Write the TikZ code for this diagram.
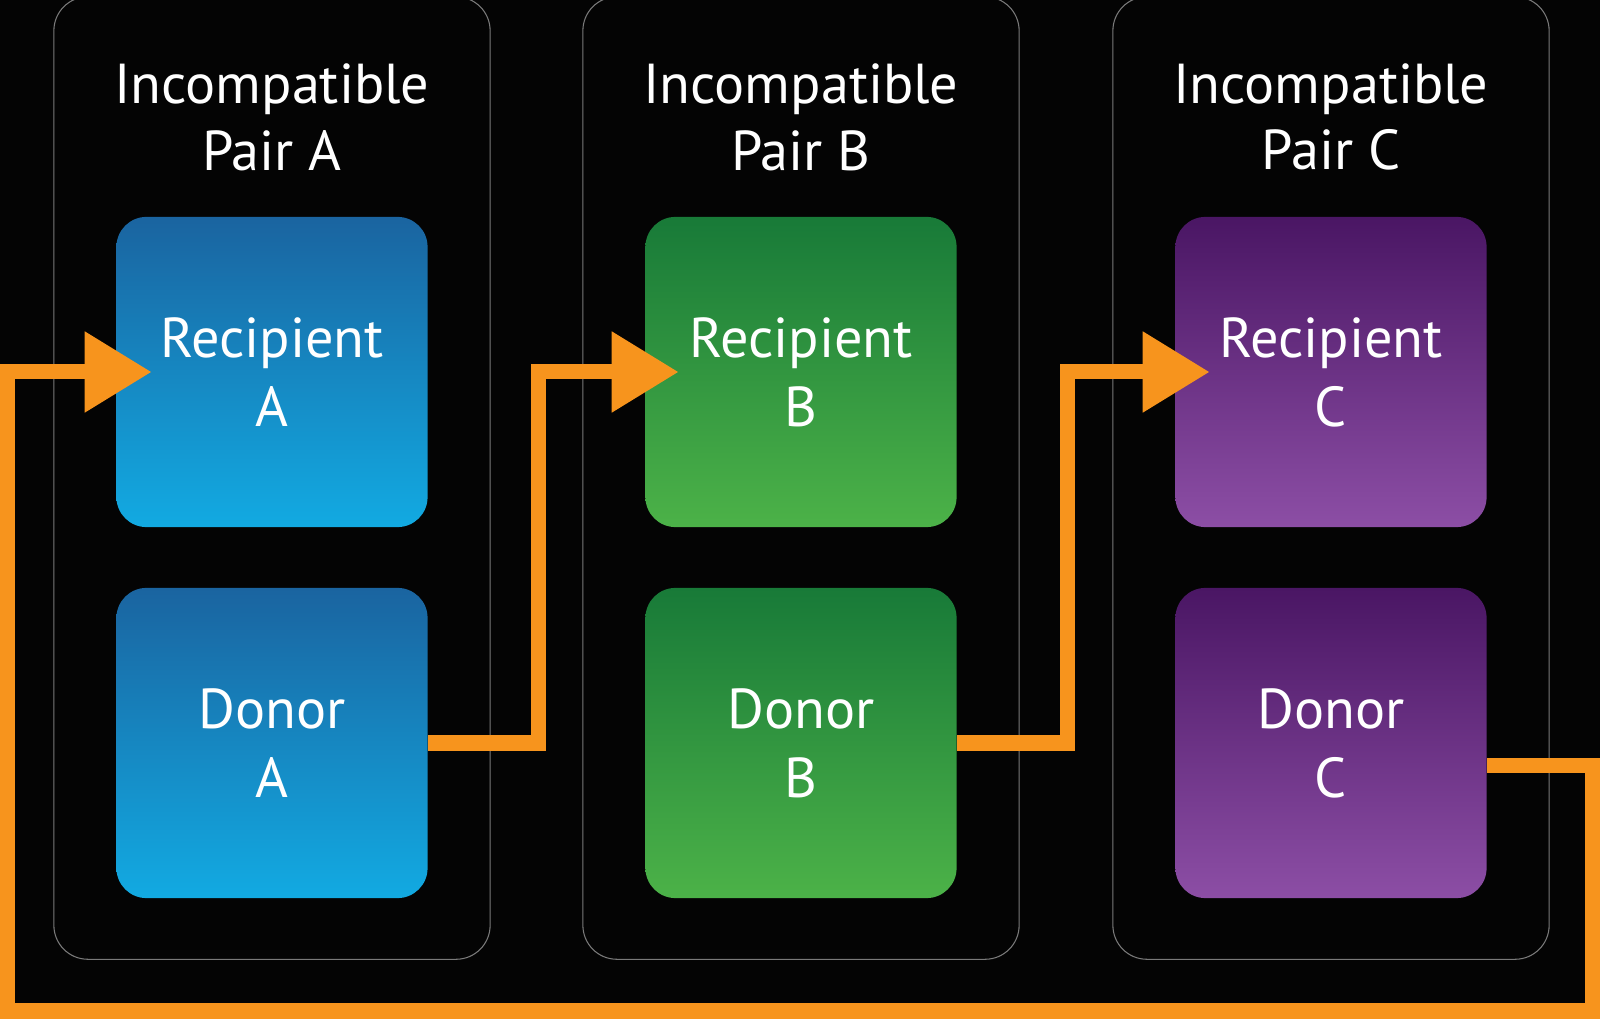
\documentclass[tikz,border=0pt]{standalone}
\usepackage{fontspec}
\setmainfont{PT Sans}
\usepackage{xcolor}
\usepackage{tikz}
\usetikzlibrary{arrows.meta}

\definecolor{bgblack}{HTML}{040404}
\definecolor{panelgray}{HTML}{7A7A7A}
\definecolor{linkorange}{HTML}{F7941D}
\definecolor{blueTop}{HTML}{1A64A0}
\definecolor{blueBot}{HTML}{12AAE2}
\definecolor{greenTop}{HTML}{187A38}
\definecolor{greenBot}{HTML}{4CB248}
\definecolor{purpleTop}{HTML}{4A1664}
\definecolor{purpleBot}{HTML}{8C4EA5}

\tikzset{
  panel/.style={draw=panelgray, line width=0.3pt, fill=bgblack, rounded corners=0.34cm,
    minimum width=4.36cm, minimum height=9.62cm, inner sep=0pt},
  title/.style={text=white, align=center, font=\fontsize{16}{19}\selectfont},
  card/.style={rounded corners=0.3cm, minimum width=3.11cm, minimum height=3.1cm,
    inner sep=0pt, text=white, align=center, font=\fontsize{16}{19.6}\selectfont},
  bluecard/.style={card, top color=blueTop, bottom color=blueBot},
  greencard/.style={card, top color=greenTop, bottom color=greenBot},
  purplecard/.style={card, top color=purpleTop, bottom color=purpleBot},
  link/.style={draw=linkorange, line width=0.15cm},
  linktip/.style={-{Triangle[length=0.67cm, width=0.77cm]}}
}

\begin{document}
\begin{tikzpicture}[x=0.01cm, y=-0.01cm]
\useasboundingbox[fill=bgblack] (0,0) rectangle (1600,1019);

% the three pairs
\node[panel] (pairA) at (272,478) {};
\node[panel] (pairB) at (801,478) {};
\node[panel] (pairC) at (1331,478) {};

\node[title] (titleA) at (272,117) {Incompatible\\Pair A};
\node[title] (titleB) at (801,117) {Incompatible\\Pair B};
\node[title] (titleC) at (1331,117) {Incompatible\\Pair C};

\node[bluecard] (recA) at (272,372) {Recipient\\A};
\node[bluecard] (donA) at (272,743) {Donor\\A};
\node[greencard] (recB) at (801,372) {Recipient\\B};
\node[greencard] (donB) at (801,743) {Donor\\B};
\node[purplecard] (recC) at (1331,372) {Recipient\\C};
\node[purplecard] (donC) at (1331,743) {Donor\\C};

% the chain
\coordinate (loopR) at (1592.5,1011);
\coordinate (loopL) at (7.5,1011);

\draw[link, linktip] (donA.east) -- ++(1.1cm,0) |- ([xshift=0.34cm]recB.west);
\draw[link, linktip] (donB.east) -- ++(1.1cm,0) |- ([xshift=0.35cm]recC.west);
\draw[link, linktip] ([yshift=-0.22cm]donC.east) -| (loopR) -- (loopL) |- ([xshift=0.36cm]recA.west);
\end{tikzpicture}
\end{document}
